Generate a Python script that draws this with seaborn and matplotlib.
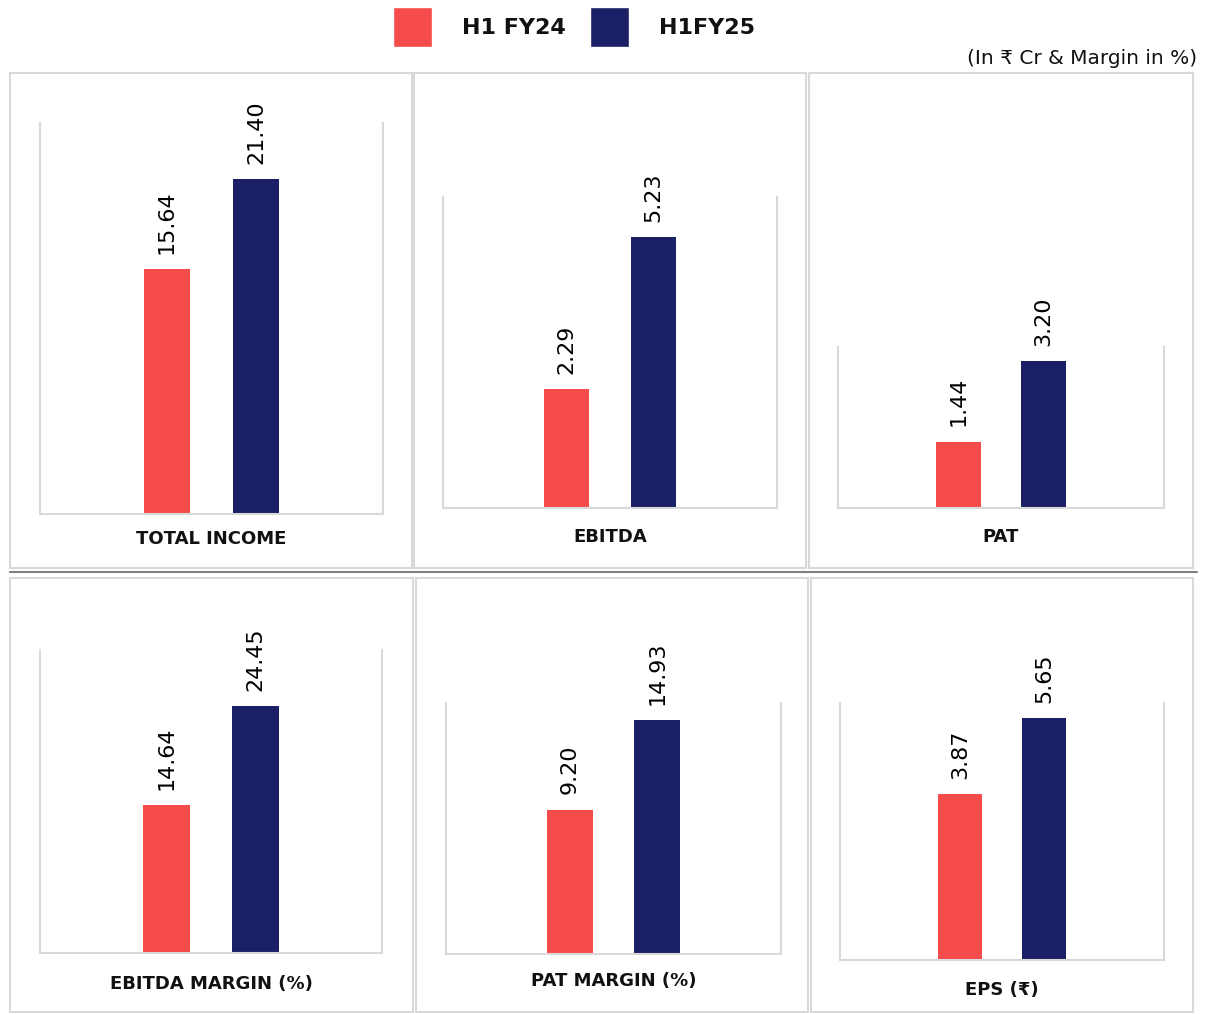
import matplotlib
matplotlib.use("Agg")
import matplotlib.pyplot as plt
import seaborn as sns
from matplotlib.patches import Patch, Rectangle
from matplotlib.lines import Line2D

# data
periods = ["H1 FY24", "H1FY25"]
metrics = ["TOTAL INCOME", "EBITDA", "PAT", "EBITDA MARGIN (%)", "PAT MARGIN (%)", "EPS (₹)"]
fy24 = [15.64, 2.29, 1.44, 14.64, 9.20, 3.87]
fy25 = [21.40, 5.23, 3.20, 24.45, 14.93, 5.65]
ymax = [25, 6, 3.5, 30, 16, 6]

colors = ["#F64B4B", "#1A1F66"]
grey = "#d9d9d9"

W, H = 1208, 1014

# layout in pixels: (left, top, right, bottom)
axes_px = [
    (40, 123, 383, 514),
    (443, 197, 777, 508),
    (838, 347, 1164, 508),
    (40, 650, 382, 953),
    (446, 703, 781, 954),
    (840, 703, 1164, 960),
]
boxes_px = [
    (10, 73, 412, 568),
    (414, 73, 806, 568),
    (809, 73, 1193, 568),
    (10, 578, 413, 1012),
    (416, 578, 808, 1012),
    (811, 578, 1193, 1012),
]
label_y = [539, 537, 537, 984, 981, 990]

sns.set_theme(style="white")
plt.rcParams["font.family"] = ["DejaVu Sans"]

fig = plt.figure(figsize=(W / 100, H / 100), dpi=100)


def fx(x):
    return x / W


def fy(y):
    return 1 - y / H


# panel frames
for (l, t, r, b) in boxes_px:
    fig.patches.append(Rectangle((fx(l), fy(b)), fx(r - l), (b - t) / H,
                                 transform=fig.transFigure, fill=False,
                                 edgecolor=grey, linewidth=1.5))
# row separator
fig.lines.append(Line2D([fx(10), fx(1197)], [fy(572), fy(572)],
                        transform=fig.transFigure, color="#808080", linewidth=1.5))

for i, name in enumerate(metrics):
    l, t, r, b = axes_px[i]
    ax = fig.add_axes([fx(l), fy(b), fx(r - l), (b - t) / H])
    sns.barplot(x=periods, y=[fy24[i], fy25[i]], hue=periods, palette=colors,
                width=0.52, saturation=1, legend=False, linewidth=0, ax=ax)
    ax.set_xlim(-1.42, 2.42)
    ax.set_ylim(0, ymax[i])
    ax.set_xticks([])
    ax.set_yticks([])
    ax.set_xlabel("")
    ax.set_ylabel("")
    ax.spines["top"].set_visible(False)
    for s in ["left", "right", "bottom"]:
        ax.spines[s].set_color(grey)
        ax.spines[s].set_linewidth(1.5)
    for c in ax.containers:
        ax.bar_label(c, fmt="%.2f", rotation=90, padding=11, fontsize=16, color="black")
    fig.text(fx((l + r) / 2), fy(label_y[i]), name, ha="center", va="center",
             fontsize=13, fontweight="bold", color="#111111")

handles = [Patch(facecolor=colors[0]), Patch(facecolor=colors[1])]
fig.legend(handles, periods, loc="upper center", bbox_to_anchor=(574 / W, 1.013),
           ncol=2, frameon=False, handlelength=1.75, handleheight=2.4,
           handletextpad=1.35, columnspacing=1.1, labelcolor="#111111",
           prop={"weight": "bold", "size": 16})

fig.text(fx(1197), fy(58), "(In ₹ Cr & Margin in %)", ha="right", va="center",
         fontsize=14.5, color="#111111")

fig.savefig("out.png", dpi=100)
